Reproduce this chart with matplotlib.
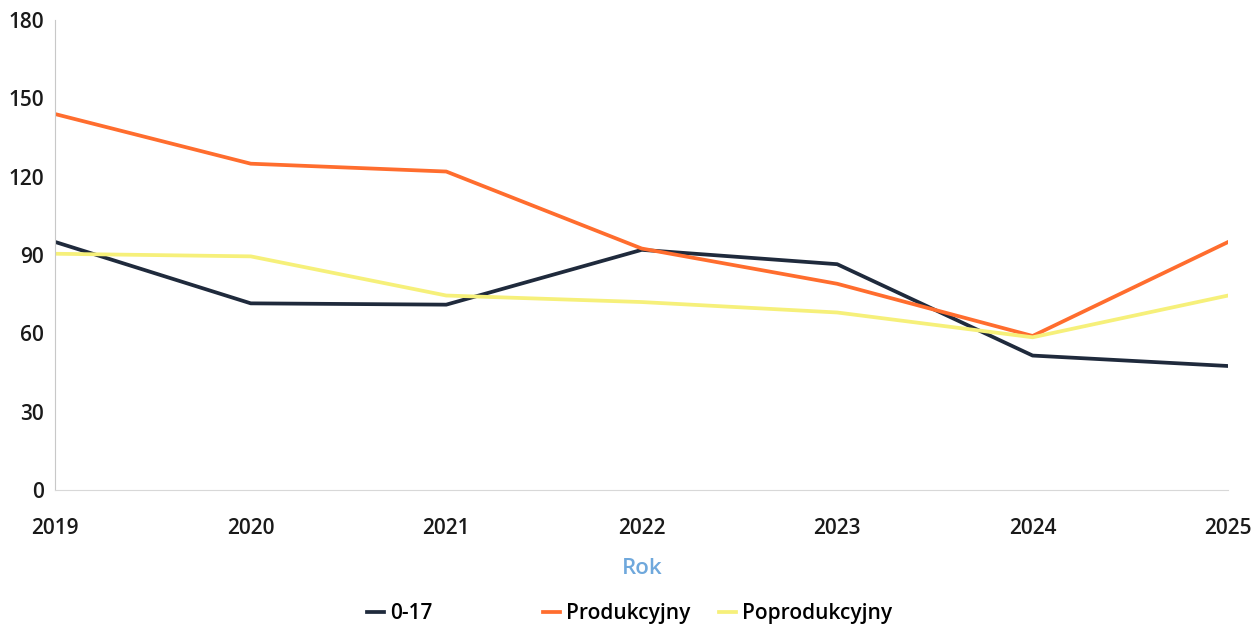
import matplotlib.pyplot as plt

plt.rcParams['font.family'] = ['Open Sans', 'DejaVu Sans']

lata = [2019, 2020, 2021, 2022, 2023, 2024, 2025]
grupa_0_17 = [95, 71.5, 71, 92, 86.5, 51.5, 47.5]
produkcyjny = [144, 125, 122, 92.5, 79, 59, 95]
poprodukcyjny = [90.5, 89.5, 74.5, 72, 68, 58.5, 74.5]

fig = plt.figure(figsize=(12.57, 6.29), dpi=100)
ax = fig.add_axes([0.044, 0.221, 0.933, 0.747])

l1, = ax.plot(lata, grupa_0_17, color="#1f2a3c", lw=2.7, label="0-17")
l2, = ax.plot(lata, produkcyjny, color="#ff6d2e", lw=2.7, label="Produkcyjny")
l3, = ax.plot(lata, poprodukcyjny, color="#f6f07a", lw=2.7, label="Poprodukcyjny")

ax.set_xlim(2019, 2025)
ax.set_ylim(0, 180)
ax.set_yticks(range(0, 181, 30))
ax.set_xticks(lata)
ax.tick_params(length=0, labelsize=15, colors="#1a1a1a", pad=8)
ax.tick_params(axis="x", pad=20)
for lab in ax.get_xticklabels() + ax.get_yticklabels():
    lab.set_fontweight("semibold")

for s in ["top", "right"]:
    ax.spines[s].set_visible(False)
ax.spines["left"].set_color("#c8c8c8")
ax.spines["left"].set_linestyle((0, (1, 1)))
ax.spines["bottom"].set_color("#d8d8d8")

ax.set_xlabel("Rok", color="#6fa8dc", fontsize=16, fontweight="semibold", labelpad=14)

# legenda jak w oryginale: kolumny o nierównych odstępach
for uchwyt, x in [(l1, 0.292), (l2, 0.432), (l3, 0.572)]:
    fig.legend(handles=[uchwyt], loc="center left", bbox_to_anchor=(x, 0.024),
               frameon=False, handlelength=0.8, handletextpad=0.3,
               borderpad=0, borderaxespad=0,
               prop={"size": 15, "weight": "semibold"})

fig.savefig("out.png")
